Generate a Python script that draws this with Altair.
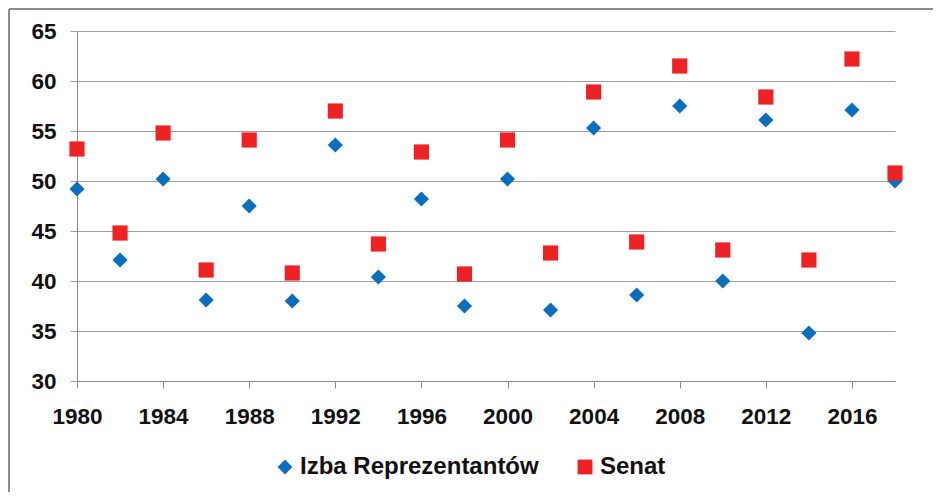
import altair as alt
import pandas as pd

years = [1980, 1982, 1984, 1986, 1988, 1990, 1992, 1994, 1996, 1998,
         2000, 2002, 2004, 2006, 2008, 2010, 2012, 2014, 2016, 2018]
izba = [49.2, 42.1, 50.2, 38.1, 47.5, 38.0, 53.6, 40.4, 48.2, 37.5,
        50.2, 37.1, 55.3, 38.6, 57.5, 40.0, 56.1, 34.8, 57.1, 50.0]
senat = [53.2, 44.8, 54.8, 41.1, 54.1, 40.8, 57.0, 43.7, 52.9, 40.7,
         54.1, 42.8, 58.9, 43.9, 61.5, 43.1, 58.4, 42.1, 62.2, 50.8]
series_names = ["Izba Reprezentantów", "Senat"]
x_ticks = list(range(1980, 2017, 4))
y_ticks = [30, 35, 40, 45, 50, 55, 60, 65]

df = pd.DataFrame({
    "rok": years * 2,
    "wartosc": izba + senat,
    "seria": [series_names[0]] * len(years) + [series_names[1]] * len(years),
})

FONT = "Liberation Sans"
W, H = 818, 350

points = alt.Chart(df).mark_point(filled=True, opacity=1, size=230).encode(
    x=alt.X("rok:Q", scale=alt.Scale(domain=[1980, 2018], nice=False, zero=False),
            axis=alt.Axis(values=x_ticks, format="d", title=None, grid=False,
                          tickSize=7, labelPadding=17, tickColor="#8a8a8a",
                          domainColor="#8a8a8a", labelFontSize=22.5,
                          labelFontWeight="bold", labelColor="#111",
                          labelFont=FONT, labelFlush=False)),
    y=alt.Y("wartosc:Q", scale=alt.Scale(domain=[30, 65], nice=False, zero=False),
            axis=alt.Axis(values=y_ticks, title=None, grid=True, gridColor="#9e9e9e",
                          tickSize=7, labelPadding=14, tickColor="#9e9e9e",
                          domainColor="#8a8a8a", labelFontSize=22.5,
                          labelFontWeight="bold", labelColor="#111",
                          labelFont=FONT, labelFlush=False)),
    color=alt.Color("seria:N",
                    scale=alt.Scale(domain=series_names, range=["#0A6EBD", "#EC2224"]),
                    legend=alt.Legend(title=None, orient="none", direction="horizontal",
                                      legendX=196, legendY=424, columns=2,
                                      columnPadding=34, symbolSize=220,
                                      labelFontSize=24, labelFontWeight="bold",
                                      labelFont=FONT, labelColor="#111",
                                      labelOffset=3, labelLimit=500,
                                      symbolStrokeWidth=0)),
    shape=alt.Shape("seria:N",
                    scale=alt.Scale(domain=series_names, range=["diamond", "square"]),
                    legend=None),
)

frame_top = alt.Chart(alt.Data(values=[{}])).mark_rule(
    stroke="#8c8c8c", strokeWidth=2, clip=False
).encode(x=alt.value(-68), x2=alt.value(W + 200), y=alt.value(-22))

frame_left = alt.Chart(alt.Data(values=[{}])).mark_rule(
    stroke="#8c8c8c", strokeWidth=2, clip=False
).encode(x=alt.value(-68), y=alt.value(-22), y2=alt.value(H + 200))

chart = alt.layer(frame_top, frame_left, points).properties(
    width=W, height=H,
    autosize=alt.AutoSizeParams(type="none"),
    padding={"left": 69, "top": 23, "right": 38, "bottom": 111},
    background="white",
).configure_view(stroke=None)

chart.save("out.html", embed_options={"renderer": "svg", "actions": False})
